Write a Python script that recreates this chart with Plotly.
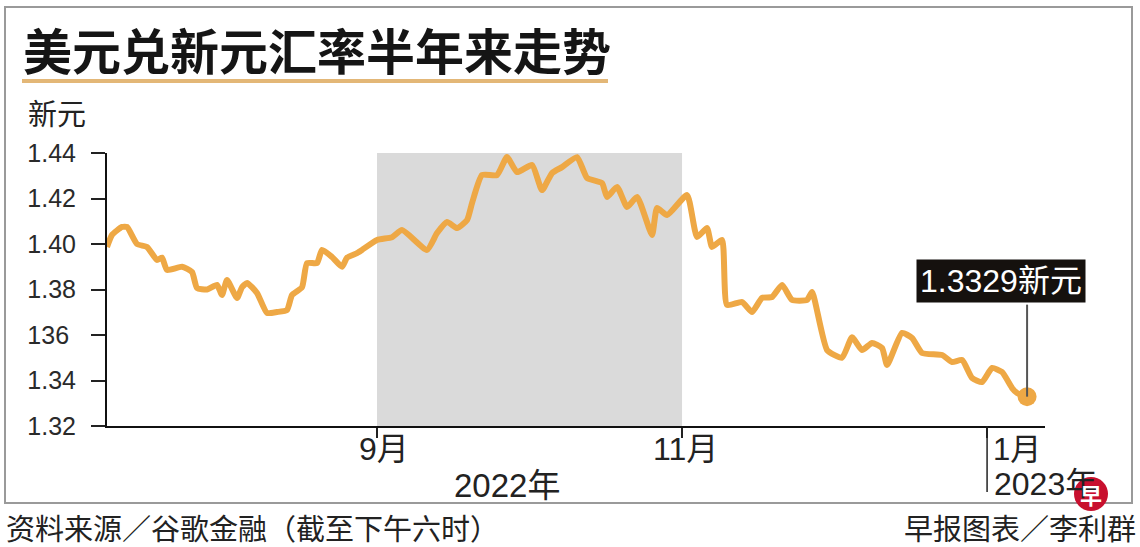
import plotly.graph_objects as go

# ---- data ----
dates = ["2022-07-09", "2022-07-10", "2022-07-12", "2022-07-13", "2022-07-15", "2022-07-17",
         "2022-07-19", "2022-07-20", "2022-07-21", "2022-07-24", "2022-07-26", "2022-07-27",
         "2022-07-29", "2022-07-31", "2022-08-01", "2022-08-02", "2022-08-04", "2022-08-05",
         "2022-08-06", "2022-08-08", "2022-08-10", "2022-08-12", "2022-08-14", "2022-08-15",
         "2022-08-17", "2022-08-18", "2022-08-20", "2022-08-21", "2022-08-23", "2022-08-25",
         "2022-08-26", "2022-08-28", "2022-08-29", "2022-09-01", "2022-09-04", "2022-09-06",
         "2022-09-11", "2022-09-13", "2022-09-15", "2022-09-17", "2022-09-19", "2022-09-20",
         "2022-09-22", "2022-09-25", "2022-09-27", "2022-09-29", "2022-10-02", "2022-10-04",
         "2022-10-06", "2022-10-08", "2022-10-11", "2022-10-13", "2022-10-16", "2022-10-17",
         "2022-10-19", "2022-10-21", "2022-10-23", "2022-10-26", "2022-10-27", "2022-10-29",
         "2022-11-02", "2022-11-04", "2022-11-06", "2022-11-07", "2022-11-09", "2022-11-10",
         "2022-11-13", "2022-11-15", "2022-11-17", "2022-11-19", "2022-11-21", "2022-11-23",
         "2022-11-26", "2022-11-27", "2022-11-30", "2022-12-03", "2022-12-05", "2022-12-07",
         "2022-12-09", "2022-12-11", "2022-12-12", "2022-12-15", "2022-12-17", "2022-12-19",
         "2022-12-23", "2022-12-25", "2022-12-27", "2022-12-29", "2022-12-31", "2023-01-02",
         "2023-01-04", "2023-01-06", "2023-01-07", "2023-01-09"]
rates = [1.3987, 1.4040, 1.4075, 1.4075, 1.4000, 1.3987,
         1.3930, 1.3940, 1.3886, 1.3900, 1.3877, 1.3807,
         1.3800, 1.3820, 1.3776, 1.3842, 1.3763, 1.3810,
         1.3829, 1.3785, 1.3697, 1.3701, 1.3710, 1.3776,
         1.3810, 1.3916, 1.3916, 1.3974, 1.3943, 1.3900,
         1.3940, 1.3960, 1.3974, 1.4018, 1.4030, 1.4061,
         1.3974, 1.4048, 1.4097, 1.4070, 1.4105, 1.4180,
         1.4303, 1.4303, 1.4382, 1.4316, 1.4347, 1.4237,
         1.4312, 1.4338, 1.4382, 1.4290, 1.4268, 1.4207,
         1.4251, 1.4163, 1.4207, 1.4040, 1.4158, 1.4127,
         1.4215, 1.4031, 1.4070, 1.3987, 1.4018, 1.3732,
         1.3745, 1.3701, 1.3763, 1.3767, 1.3820, 1.3754,
         1.3754, 1.3789, 1.3534, 1.3500, 1.3590, 1.3534,
         1.3565, 1.3543, 1.3468, 1.3609, 1.3587, 1.3521,
         1.3512, 1.3481, 1.3490, 1.3411, 1.3393, 1.3455,
         1.3437, 1.3367, 1.3345, 1.3329]

y_ticks = [1.32, 1.34, 1.36, 1.38, 1.40, 1.42, 1.44]
y_tick_labels = ["1.32", "1.34", "136\u00a0", "1.38", "1.40", "1.42", "1.44"]
month_ticks = ["2022-09-01", "2022-11-01", "2023-01-01"]
month_labels = ["9月", "11月", "1月"]
highlight_start, highlight_end = "2022-09-01", "2022-11-01"
x_range = ["2022-07-09", "2023-01-12 14:00"]
last_label = "1.3329新元"

title = "美元兑新元汇率半年来走势"
unit = "新元"
source_left = "资料来源／谷歌金融（截至下午六时）"
source_right = "早报图表／李利群"

# ---- layout geometry ----
W, H = 1140, 547
L, R, T, B = 107, 95, 153, 121
PW, PH = W - L - R, H - T - B


def fx(px):
    return (px - L) / PW


def fy(py):
    return (H - B - py) / PH


LINE_COLOR = "#EEA845"
NUM_FONT = "Liberation Sans, Arial, Noto Sans CJK SC, sans-serif"
CJK_FONT = "Noto Sans CJK SC, Liberation Sans, sans-serif"

fig = go.Figure()
fig.add_trace(go.Scatter(
    x=dates, y=rates, mode="lines",
    line=dict(color=LINE_COLOR, width=6, shape="spline", smoothing=0.5),
    hoverinfo="x+y", showlegend=False))
fig.add_trace(go.Scatter(
    x=[dates[-1]], y=[rates[-1]], mode="markers",
    marker=dict(color=LINE_COLOR, size=19, line=dict(width=0)),
    showlegend=False))

shapes = [
    # highlighted period
    dict(type="rect", xref="x", yref="y", x0=highlight_start, x1=highlight_end,
         y0=y_ticks[0], y1=y_ticks[-1], fillcolor="#DADADA", line=dict(width=0), layer="below"),
    # outer frame
    dict(type="rect", xref="paper", yref="paper", x0=fx(5), x1=fx(1132), y0=fy(503), y1=fy(7),
         line=dict(color="#9A9A9A", width=2), fillcolor="rgba(0,0,0,0)", layer="below"),
    # title underline
    dict(type="line", xref="paper", yref="paper", x0=fx(22), x1=fx(608), y0=fy(81), y1=fy(81),
         line=dict(color="#E3B777", width=4)),
    # long year separator tick at January
    dict(type="line", xref="x", yref="paper", x0=month_ticks[2], x1=month_ticks[2],
         y0=0, y1=fy(492), line=dict(color="#222222", width=1.5)),
    # pointer line to last value
    dict(type="line", xref="x", yref="y", ysizemode="pixel", yanchor=rates[-1],
         x0=dates[-1], x1=dates[-1], y0=0, y1=92, line=dict(color="#555555", width=2)),
    # logo circle
    dict(type="circle", xref="paper", yref="paper", x0=fx(1074), x1=fx(1108),
         y0=fy(511), y1=fy(477), fillcolor="#C8102E", line=dict(width=0)),
]

annotations = [
    dict(text=f"<b>{title}</b>", xref="paper", yref="paper", x=fx(21), y=fy(48),
         xanchor="left", yanchor="middle", showarrow=False,
         font=dict(family=CJK_FONT, size=49, color="#151515")),
    dict(text=unit, xref="paper", yref="paper", x=fx(26), y=fy(112),
         xanchor="left", yanchor="middle", showarrow=False,
         font=dict(family=CJK_FONT, size=29, color="#222222")),
    dict(text=month_labels[0], xref="x", yref="paper", x=month_ticks[0], y=fy(449), xshift=7,
         xanchor="center", yanchor="middle", showarrow=False,
         font=dict(family=NUM_FONT, size=32, color="#222222")),
    dict(text=month_labels[1], xref="x", yref="paper", x=month_ticks[1], y=fy(449), xshift=3,
         xanchor="center", yanchor="middle", showarrow=False,
         font=dict(family=NUM_FONT, size=32, color="#222222")),
    dict(text=month_labels[2], xref="x", yref="paper", x=month_ticks[2], y=fy(449), xshift=4,
         xanchor="left", yanchor="middle", showarrow=False,
         font=dict(family=NUM_FONT, size=31, color="#222222")),
    dict(text="2022年", xref="paper", yref="paper", x=fx(507), y=fy(485),
         xanchor="center", yanchor="middle", showarrow=False,
         font=dict(family=NUM_FONT, size=33, color="#222222")),
    dict(text="2023年", xref="x", yref="paper", x=month_ticks[2], y=fy(484), xshift=5,
         xanchor="left", yanchor="middle", showarrow=False,
         font=dict(family=NUM_FONT, size=32, color="#222222")),
    dict(text=last_label, xref="paper", yref="paper", x=fx(1001), y=fy(281),
         xanchor="center", yanchor="middle", showarrow=False, bgcolor="#15110E",
         borderpad=3, font=dict(family=NUM_FONT, size=32, color="#FFFFFF")),
    dict(text=source_left, xref="paper", yref="paper", x=fx(4), y=fy(527),
         xanchor="left", yanchor="middle", showarrow=False,
         font=dict(family=CJK_FONT, size=29, color="#222222")),
    dict(text=source_right, xref="paper", yref="paper", x=fx(1138), y=fy(527),
         xanchor="right", yanchor="middle", showarrow=False,
         font=dict(family=CJK_FONT, size=29, color="#222222")),
    dict(text="<b>早</b>", xref="paper", yref="paper", x=fx(1091), y=fy(494),
         xanchor="center", yanchor="middle", showarrow=False,
         font=dict(family=CJK_FONT, size=22, color="#FFFFFF")),
]

fig.update_layout(
    width=W, height=H,
    margin=dict(l=L, r=R, t=T, b=B, pad=0),
    paper_bgcolor="#FFFFFF", plot_bgcolor="#FFFFFF",
    shapes=shapes, annotations=annotations,
    xaxis=dict(type="date", range=x_range, showgrid=False, zeroline=False,
               showline=True, linecolor="#111111", linewidth=2,
               tickmode="array", tickvals=month_ticks, ticktext=["", "", ""],
               ticks="outside", ticklen=10, tickwidth=1.5, tickcolor="#222222",
               fixedrange=True),
    yaxis=dict(range=[y_ticks[0], y_ticks[-1]], showgrid=False, zeroline=False,
               showline=True, linecolor="#111111", linewidth=2,
               tickmode="array", tickvals=y_ticks, ticktext=y_tick_labels,
               ticks="outside", ticklen=14, tickwidth=2, tickcolor="#222222",
               ticklabelstandoff=10,
               tickfont=dict(family=NUM_FONT, size=25, color="#2A2A2A"),
               fixedrange=True),
)

fig.write_html("out.html", config={"displayModeBar": False},
               post_script="document.body.style.margin='0';document.body.style.overflow='hidden';")
